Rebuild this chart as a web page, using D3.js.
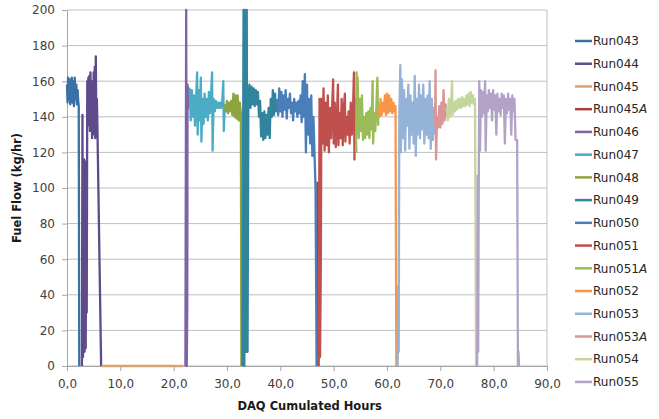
<!DOCTYPE html>
<html>
<head>
<meta charset="utf-8">
<script src="https://cdn.jsdelivr.net/npm/d3@7"></script>
<style>
  body { margin: 0; background: #fff; }
  svg { display: block; }
  .tick text { font-family: "DejaVu Sans", Verdana, sans-serif; font-size: 12px; fill: #404040; }
  .axis-title { font-family: "DejaVu Sans", sans-serif; font-weight: bold; font-size: 11.5px; fill: #1a1a1a; }
  .legend text { font-family: "DejaVu Sans", Verdana, sans-serif; font-size: 12px; fill: #262626; }
</style>
</head>
<body>
<div id="chart"></div>
<script>
// Series data: [cumulated hours, fuel flow kg/hr]
const run043 = [[0,158],[0.1,148],[0.2,162],[0.35,150],[0.5,161],[0.6,147],[0.75,156],[0.9,162],[1.0,148],[1.15,160],[1.3,146],[1.45,162],[1.6,150],[1.75,158],[1.85,147],[2.0,155],[2.1,149],[2.2,146],[2.3,0]];
const run044 = [[2.8,0],[2.9,141],[3.0,5],[3.1,100],[3.2,116],[3.3,8],[3.4,115],[3.5,10],[3.6,60],[3.7,30],[3.8,160],[3.9,135],[4.0,162],[4.1,140],[4.2,163],[4.3,132],[4.4,165],[4.5,145],[4.6,160],[4.7,128],[4.8,158],[4.9,130],[5.0,165],[5.1,135],[5.2,168],[5.3,128],[5.4,174],[5.5,132],[5.6,150],[5.7,135],[6.4,0]];
const run045 = [[6.5,0],[10,0],[14,0],[18,0],[21.8,0]];
const run045A = [[46.9,0],[46.95,103],[47.05,0]];
const run046 = [[22.2,0],[22.35,200],[22.45,0],[22.55,33],[22.6,158],[22.75,145],[22.85,156],[23.0,150]];
const run047 = [[23.0,156],[23.2,138],[23.4,155],[23.6,140],[23.8,152],[24.0,135],[24.2,150],[24.4,165],[24.5,130],[24.7,155],[24.9,138],[25.1,162],[25.2,126],[25.4,150],[25.6,136],[25.8,153],[26.0,140],[26.2,150],[26.4,138],[26.6,154],[26.8,142],[27.0,152],[27.2,165],[27.3,121],[27.5,150],[27.7,143],[27.9,149],[28.1,145],[28.3,148],[28.5,145],[28.7,148],[28.9,145],[29.1,148],[29.3,160],[29.4,132],[29.6,147]];
const run048 = [[29.6,147],[29.8,143],[30.0,149],[30.2,142],[30.4,148],[30.6,143],[30.8,149],[31.0,141],[31.2,153],[31.4,140],[31.6,152],[31.8,139],[32.0,152],[32.2,138],[32.4,148],[32.6,142],[32.7,0]];
const run049 = [[32.9,0],[33.1,200],[33.25,0],[33.4,200],[33.55,8],[33.7,200],[33.85,8],[34.0,150],[34.2,158],[34.4,145],[34.6,157],[34.8,147],[35.0,156],[35.2,146],[35.4,155],[35.6,147],[35.8,154],[36.0,140],[36.2,149],[36.4,129],[36.6,142],[36.8,127],[37.0,143],[37.2,128],[37.4,141],[37.6,130],[37.8,145],[38.0,128],[38.2,150],[38.4,140],[38.6,155],[38.8,141],[39.0,153],[39.2,143],[39.4,150]];
const run050 = [[39.4,150],[39.6,141],[39.8,156],[40.0,143],[40.2,154],[40.4,140],[40.6,152],[40.8,144],[41.0,155],[41.2,139],[41.4,150],[41.6,145],[41.8,153],[42.0,142],[42.2,148],[42.4,138],[42.6,150],[42.8,143],[43.0,148],[43.2,140],[43.4,149],[43.6,142],[43.8,152],[44.0,137],[44.2,160],[44.4,140],[44.6,164],[44.8,120],[45.0,158],[45.2,130],[45.4,150],[45.6,125],[45.8,152],[46.0,118],[46.2,140],[46.6,100],[46.8,0]];
const run051 = [[47.2,0],[47.35,150],[47.45,5],[47.6,60],[47.7,150],[47.9,125],[48.1,156],[48.3,121],[48.5,148],[48.7,124],[48.9,152],[49.1,120],[49.3,145],[49.5,128],[49.9,161],[50.0,125],[50.2,148],[50.4,123],[50.6,140],[50.8,158],[50.9,124],[51.1,142],[51.3,128],[51.5,150],[51.7,124],[51.9,145],[52.1,153],[52.2,126],[52.4,140],[52.6,130],[52.8,143],[53.0,125],[53.2,148],[53.4,130],[53.6,140],[53.8,165],[53.9,116],[54.0,150],[54.2,120]];
const run051A = [[54.2,120],[54.3,165],[54.4,130],[54.5,162],[54.7,128],[54.9,150],[55.1,132],[55.3,152],[55.5,127],[55.7,140],[55.9,128],[56.1,142],[56.3,130],[56.5,143],[56.7,128],[56.9,145],[57.1,133],[57.3,160],[57.4,125],[57.6,142],[57.8,132],[58.0,145],[58.2,162],[58.35,135]];
const run052 = [[58.4,145],[58.6,140],[58.8,150],[59.0,141],[59.2,148],[59.4,143],[59.6,152],[59.8,141],[60.0,153],[60.2,142],[60.4,152],[60.6,143],[60.8,150],[61.0,142],[61.2,148],[61.4,143],[61.6,146],[61.75,0]];
const run053 = [[62.0,0],[62.1,45],[62.2,8],[62.3,140],[62.5,169],[62.6,120],[62.8,161],[63.0,128],[63.2,155],[63.4,121],[63.6,150],[63.8,135],[64.0,158],[64.2,122],[64.4,152],[64.6,130],[64.8,148],[65.0,125],[65.2,163],[65.4,118],[65.6,150],[65.8,130],[66.0,158],[66.2,128],[66.4,152],[66.6,133],[66.8,158],[67.0,125],[67.2,150],[67.4,130],[67.6,152],[67.8,128],[68.0,160],[68.2,122],[68.4,150],[68.6,127],[68.8,145],[69.0,130]];
const run053A = [[69.0,135],[69.1,166],[69.2,116],[69.4,140],[69.6,134],[69.8,146],[70.0,134],[70.2,148],[70.4,136],[70.6,155],[70.8,138],[71.0,147],[71.2,140]];
const run054 = [[71.2,145],[71.4,138],[71.6,150],[71.8,140],[72.0,147],[72.2,160],[72.3,141],[72.5,148],[72.7,143],[72.9,149],[73.1,144],[73.3,150],[73.5,145],[73.7,150],[73.9,145],[74.1,151],[74.3,146],[74.5,150],[74.7,146],[74.9,152],[75.1,147],[75.3,153],[75.5,146],[75.7,154],[75.9,148],[76.1,152],[76.3,147],[76.5,150],[76.7,0]];
const run055 = [[76.9,0],[77.0,107],[77.1,8],[77.2,100],[77.3,160],[77.45,121],[77.6,155],[77.8,140],[78.0,154],[78.2,142],[78.4,160],[78.5,121],[78.7,152],[78.9,143],[79.1,155],[79.3,145],[79.5,153],[79.7,138],[79.9,155],[80.1,144],[80.3,152],[80.5,130],[80.7,153],[80.9,143],[81.1,150],[81.3,141],[81.5,153],[81.7,145],[81.9,152],[82.1,125],[82.3,150],[82.5,142],[82.7,153],[82.9,144],[83.1,150],[83.3,130],[83.5,152],[83.7,143],[83.9,150],[84.1,127],[84.4,127],[84.55,0],[84.65,8],[84.75,0]];

const seriesNames = ["Run043","Run044","Run045","Run045A","Run046","Run047","Run048","Run049","Run050","Run051","Run051A","Run052","Run053","Run053A","Run054","Run055"];
const seriesData = [run043, run044, run045, run045A, run046, run047, run048, run049, run050, run051, run051A, run052, run053, run053A, run054, run055];
const seriesColors = ["#3B6FA6","#5F4B8B","#D9A36E","#A0413F","#7F63A5","#4BACC6","#8EA53F","#31849B","#4A7EBB","#C0504D","#9BBB59","#F79646","#95B3D7","#D99694","#C3D69B","#B3A2C7"];

const yTicks = [0,20,40,60,80,100,120,140,160,180,200];
const xTicks = [0,10,20,30,40,50,60,70,80,90];

// Dimensions
const W = 659, H = 419;
const margin = { top: 10, right: 112, bottom: 53, left: 67 };
const width = W - margin.left - margin.right;
const height = H - margin.top - margin.bottom;

const svg = d3.select('#chart')
  .append('svg')
  .attr('width', W)
  .attr('height', H);

const g = svg.append('g')
  .attr('transform', `translate(${margin.left},${margin.top})`);

// Scales
const x = d3.scaleLinear().domain([0, 90]).range([0, width]);
const y = d3.scaleLinear().domain([0, 200]).range([height, 0]);

// Gridlines
g.append('g')
  .selectAll('line')
  .data(yTicks)
  .join('line')
  .attr('x1', 0).attr('x2', width)
  .attr('y1', d => y(d)).attr('y2', d => y(d))
  .attr('stroke', '#bfbfbf')
  .attr('stroke-width', 1);

// Right border of plot area
g.append('line')
  .attr('x1', width).attr('x2', width)
  .attr('y1', 0).attr('y2', height)
  .attr('stroke', '#bfbfbf');

// Axes
const fmtX = d => d3.format('.1f')(d).replace('.', ',');
const xAxis = d3.axisBottom(x).tickValues(xTicks).tickFormat(fmtX).tickSize(5).tickSizeOuter(0);
const yAxis = d3.axisLeft(y).tickValues(yTicks).tickSize(5).tickSizeOuter(0);

const gx = g.append('g')
  .attr('class', 'axis x-axis')
  .attr('transform', `translate(0,${height})`)
  .call(xAxis);
gx.selectAll('.tick text').attr('dy', '1.15em');

const gy = g.append('g')
  .attr('class', 'axis y-axis')
  .call(yAxis);
gy.selectAll('.tick text').attr('x', -12);

svg.selectAll('.axis path, .axis line').attr('stroke', '#a6a6a6');

// Lines
const line = d3.line()
  .x(d => x(d[0]))
  .y(d => y(d[1]));

g.append('g')
  .selectAll('path')
  .data(seriesData)
  .join('path')
  .attr('fill', 'none')
  .attr('stroke', (d, i) => seriesColors[i])
  .attr('stroke-width', 2.3)
  .attr('stroke-linejoin', 'round')
  .attr('d', line);

// Axis titles
svg.append('text')
  .attr('class', 'axis-title')
  .attr('x', margin.left + x(45.5))
  .attr('y', 410)
  .attr('text-anchor', 'middle')
  .text('DAQ Cumulated Hours');

svg.append('text')
  .attr('class', 'axis-title')
  .attr('transform', `translate(21,${margin.top + y(100)}) rotate(-90)`)
  .attr('text-anchor', 'middle')
  .text('Fuel Flow (kg/hr)');

// Legend
const legend = svg.append('g')
  .attr('class', 'legend')
  .attr('transform', 'translate(575,41)');

const item = legend.selectAll('g')
  .data(seriesNames)
  .join('g')
  .attr('transform', (d, i) => `translate(0,${i * 22.73})`);

item.append('line')
  .attr('x1', 0).attr('x2', 17)
  .attr('stroke', (d, i) => seriesColors[i])
  .attr('stroke-width', 2.5);

const label = item.append('text')
  .attr('x', 18)
  .attr('dy', '0.35em');
label.append('tspan').text(d => d.endsWith('A') ? d.slice(0, -1) : d);
label.append('tspan').attr('font-style', 'italic').text(d => d.endsWith('A') ? 'A' : '');
</script>
</body>
</html>
